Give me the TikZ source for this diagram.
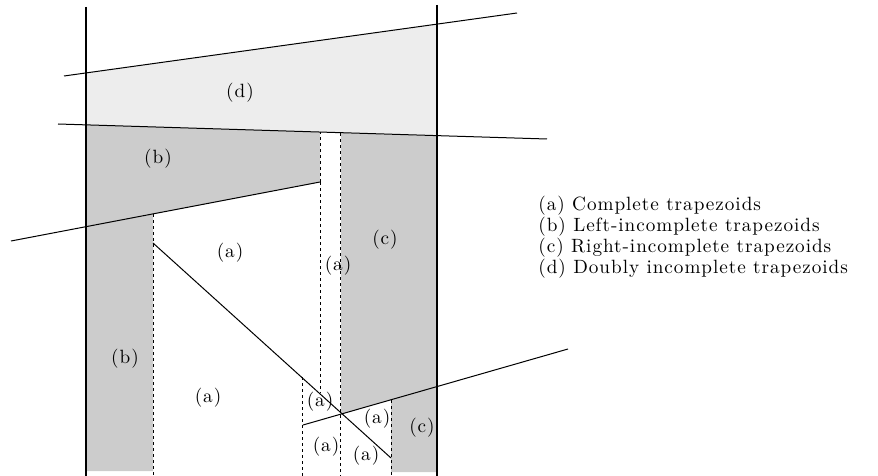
\documentclass[tikz,border=0pt]{standalone}
\usepackage{fontspec}
\newfontfamily\trapfont{lmroman10-regular.otf}[LetterSpace=5]
\usepackage{tikz}
\usetikzlibrary{positioning}

\begin{document}
\begin{tikzpicture}[
  x=0.5pt, y=-0.5pt,
  font=\trapfont\fontsize{9.6}{9}\selectfont,
  wall/.style={line width=0.6pt},
  seg/.style={line width=0.5pt},
  split/.style={line width=0.4pt, dash pattern=on 1.6pt off 1.4pt},
  lite/.style={fill=black!7, draw=none},
  dark/.style={fill=black!20, draw=none},
  lbl/.style={inner sep=0pt}
]
\useasboundingbox (0,0) rectangle (878,476);
% shaded trapezoids
\fill[lite] (86,73) -- (437,24) -- (437,135.6) -- (86,124.9) -- cycle;
\fill[dark] (86,125) -- (320,132) -- (320,182) -- (86,227) -- cycle;
\fill[dark] (341,133) -- (437,136) -- (437,386.5) -- (341,414) -- cycle;
\fill[dark] (86,227) -- (153,214) -- (153,471) -- (86,471) -- cycle;
\fill[dark] (391,400) -- (437,386.5) -- (437,472) -- (391,472) -- cycle;
% end points
\coordinate (wl1) at (86,7);    \coordinate (wl2) at (86,476);
\coordinate (wr1) at (437,5);   \coordinate (wr2) at (437,476);
\coordinate (s1a) at (64,76);   \coordinate (s1b) at (517,13);
\coordinate (s2a) at (58,124);  \coordinate (s2b) at (547,139);
\coordinate (s3a) at (11,241);  \coordinate (s3b) at (320,182);
\coordinate (s4a) at (303,425); \coordinate (s4b) at (568,349);
\coordinate (dga) at (153,243); \coordinate (dgb) at (391,458);
% walls and segments
\draw[wall] (wl1) -- (wl2);
\draw[wall] (wr1) -- (wr2);
\draw[seg] (s1a) -- (s1b);
\draw[seg] (s2a) -- (s2b);
\draw[seg] (s3a) -- (s3b);
\draw[seg] (s4a) -- (s4b);
\draw[seg] (dga) -- (dgb);
% vertical splits
\draw[split] (153,214) -- (153,476);
\draw[split] (s3b) -- (320,132);
\draw[split] (320,182) -- (320,393);
\draw[split] (340,133) -- (340,476);
\draw[split] (302,377) -- (302,476);
\draw[split] (391,400) -- (391,476);
% labels
\node[lbl] (ld)  at (240,93)  {(d)};
\node[lbl] (lb1) at (158,159) {(b)};
\node[lbl] (lc1) at (385,240) {(c)};
\node[lbl] (la1) at (230,253) {(a)};
\node[lbl] (la2) at (338,266) {(a)};
\node[lbl] (lb2) at (125,359) {(b)};
\node[lbl] (la3) at (208,398) {(a)};
\node[lbl] (la4) at (320,402) {(a)};
\node[lbl] (la5) at (377,419) {(a)};
\node[lbl] (lc2) at (422,428) {(c)};
\node[lbl] (la6) at (326,447) {(a)};
\node[lbl] (la7) at (366,456) {(a)};
% legend
\node[lbl, anchor=west, align=left] (key) at (538,237)
  {(a) Complete trapezoids\\(b) Left-incomplete trapezoids\\(c) Right-incomplete trapezoids\\(d) Doubly incomplete trapezoids};
\end{tikzpicture}
\end{document}
